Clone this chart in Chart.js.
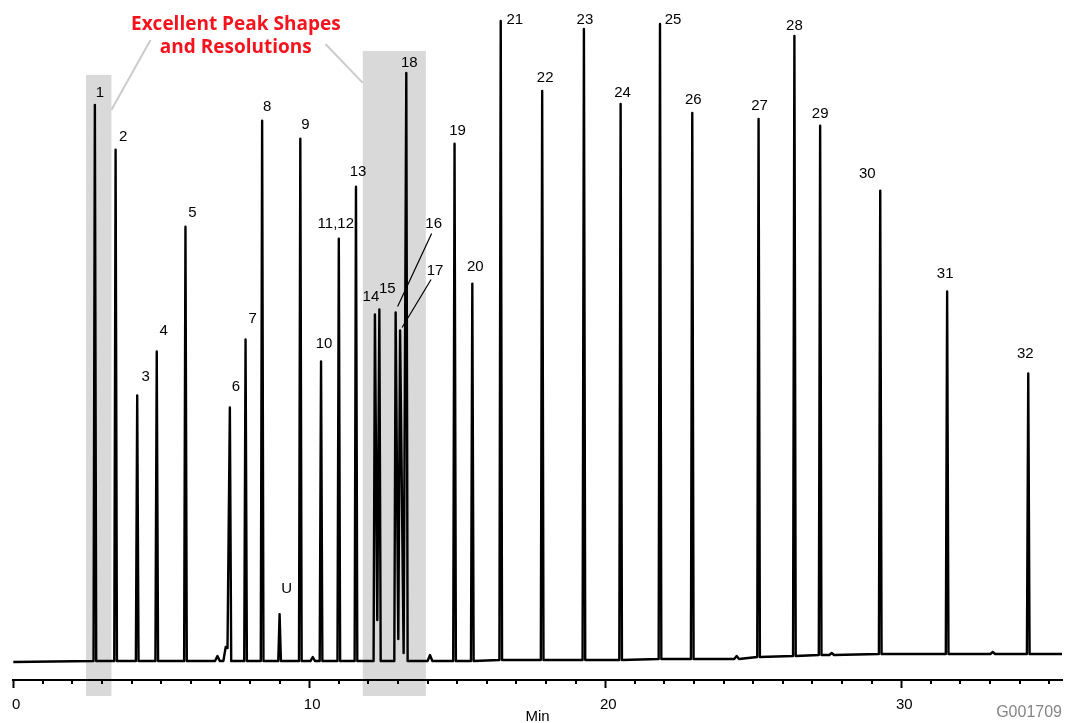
<!DOCTYPE html>
<html><head>
<meta charset="utf-8">
<script src="https://cdn.jsdelivr.net/npm/chart.js"></script>
<title>Chromatogram</title>
<style>
html, body { margin: 0; padding: 0; background: #fff; }
#wrap { width: 1066px; height: 723px; }
</style>
</head>
<body>
<div id="wrap"><canvas id="chart" width="1066" height="723"></canvas></div>

<script>
// peaks: label, retention time (min), apex response, local baseline under the peak
const peakLabels = ['1', '2', '3', '4', '5', '6', '7', '8', 'U', '9', '10', '11,12', '13', '14', '15', '16',
  '17', '18', '19', '20', '21', '22', '23', '24', '25', '26', '27', '28', '29', '30', '31', '32'];
const peakTimes = [2.76, 3.46, 4.19, 4.85, 5.82, 7.32, 7.85, 8.41, 9.00, 9.70, 10.40, 11.00, 11.58, 12.22, 12.37, 12.92,
  13.07, 13.28, 14.91, 15.51, 16.47, 17.87, 19.28, 20.52, 21.85, 22.94, 25.18, 26.39, 27.26, 29.29, 31.55, 34.29];
const peakHeights = [557, 512, 266, 310, 435, 254, 322, 541, 47, 523, 300, 423, 475, 347, 352, 349,
  331, 589, 518, 378, 641, 571, 633, 558, 638, 549, 543, 626, 536, 471, 370, 288];
const peakBase = [0, 0, 0, 0, 0, 0, 0, 0, 0, 0, 0, 0, 0, 0, 0, 0,
  0, 0, 0, 0, 1, 1, 1, 1, 2, 2, 4, 5, 6, 7, 7, 7];

// where overlapping peaks do not return to baseline
const valleyTimes = [7.24, 12.30, 13.01, 13.19];
const valleyLevels = [13, 41, 22, 8];

// small baseline disturbances
const bumpTimes = [6.90, 7.18, 10.12, 14.08, 24.44, 27.65, 33.09];
const bumpLevels = [5, 14, 4, 6, 5, 8, 9];
const bumpBase = [0, 0, 0, 0, 2, 6, 7];

const runStart = 0, runEnd = 35.43;
const startLevel = -1, endLevel = 7;

// shaded regions (min)
const shadeFrom = [2.46, 11.81];
const shadeTo = [3.32, 13.94];

// label placement next to each apex (px)
const labelDx = [5, 7.5, 8.5, 7, 7, 6, 7, 5, 7, 5, 3, -3, 2, -4, 8, 38,
  35, 3, 3, 3, 14, 3, 1, 2, 13, 1, 1, 0, 0, -13, -2, -3];
const labelDy = [-12, -13, -19, -21, -14, -21, -21, -14, -25, -14, -18, -15, -15, -18, -21, -89,
  -60, -10, -13, -17, -1, -13, -9, -11, -4, -13, -13, -10, -12, -17, -18, -20];
// leader lines: peak index, start offset from label, end offset from apex
const leaders = [[15, -2, 10, 2, -6], [16, -4, 9, 2, -3]];

// build the trace from the peak table
const features = [];
peakTimes.forEach((t, i) => features.push({t, top: peakHeights[i], base: peakBase[i], w: 0.045}));
bumpTimes.forEach((t, i) => features.push({t, top: bumpLevels[i], base: bumpBase[i], w: 0.08}));
features.sort((a, b) => a.t - b.t);

function valleyBetween(a, b) {
  return valleyTimes.findIndex(v => v > a && v < b);
}

const trace = [{x: runStart, y: startLevel}];
features.forEach((f, i) => {
  const prev = features[i - 1], next = features[i + 1];
  const vb = prev ? valleyBetween(prev.t, f.t) : -1;
  if (vb >= 0) trace.push({x: valleyTimes[vb], y: valleyLevels[vb]});
  else trace.push({x: f.t - f.w, y: f.base});
  trace.push({x: f.t, y: f.top});
  const va = next ? valleyBetween(f.t, next.t) : -1;
  if (va < 0) trace.push({x: f.t + f.w, y: f.base});
});
trace.push({x: runEnd, y: endLevel});

const shading = {
  id: 'shading',
  beforeDraw(chart) {
    const {ctx, scales: {x, y}} = chart;
    ctx.save();
    ctx.fillStyle = '#fff';
    ctx.fillRect(0, 0, chart.width, chart.height);
    ctx.fillStyle = '#d9d9d9';
    const tops = [587, 611];
    shadeFrom.forEach((t, i) => {
      const x0 = x.getPixelForValue(t), x1 = x.getPixelForValue(shadeTo[i]);
      const y0 = y.getPixelForValue(tops[i]), y1 = y.getPixelForValue(-35);
      ctx.fillRect(x0, y0, x1 - x0, y1 - y0);
    });
    // connectors from the callout to the shaded regions
    ctx.strokeStyle = '#cccccc';
    ctx.lineWidth = 2;
    ctx.beginPath();
    ctx.moveTo(x.getPixelForValue(4.64), y.getPixelForValue(622));
    ctx.lineTo(x.getPixelForValue(3.32), y.getPixelForValue(552));
    ctx.moveTo(x.getPixelForValue(10.55), y.getPixelForValue(618));
    ctx.lineTo(x.getPixelForValue(11.81), y.getPixelForValue(579));
    ctx.stroke();
    ctx.restore();
  }
};

const annotations = {
  id: 'annotations',
  afterDraw(chart) {
    const {ctx, scales: {x, y}} = chart;
    ctx.save();
    // minor ticks
    ctx.strokeStyle = '#000';
    ctx.lineWidth = 2;
    ctx.beginPath();
    for (let v = 1; v <= 35; v++) {
      if (v % 10 === 0) continue;
      const px = Math.round(x.getPixelForValue(v));
      ctx.moveTo(px, y.bottom);
      ctx.lineTo(px, y.bottom + 4);
    }
    ctx.stroke();

    // peak labels
    ctx.fillStyle = '#000';
    ctx.font = '15px "Liberation Sans", Arial, sans-serif';
    ctx.textAlign = 'center';
    ctx.textBaseline = 'middle';
    peakLabels.forEach((lab, i) => {
      const px = x.getPixelForValue(peakTimes[i]);
      const py = y.getPixelForValue(peakHeights[i]);
      ctx.fillText(lab, px + labelDx[i], py + labelDy[i]);
    });
    ctx.lineWidth = 1.2;
    ctx.beginPath();
    leaders.forEach(([i, sx, sy, ex, ey]) => {
      const px = x.getPixelForValue(peakTimes[i]);
      const py = y.getPixelForValue(peakHeights[i]);
      ctx.moveTo(px + labelDx[i] + sx, py + labelDy[i] + sy);
      ctx.lineTo(px + ex, py + ey);
    });
    ctx.stroke();

    // callout
    ctx.fillStyle = '#f5141e';
    ctx.font = 'bold 19px "Open Sans", sans-serif';
    ctx.textBaseline = 'alphabetic';
    const cx = x.getPixelForValue(7.52);
    ctx.fillText('Excellent Peak Shapes', cx, y.getPixelForValue(632));
    ctx.fillText('and Resolutions', cx, y.getPixelForValue(608.5));

    // figure code
    ctx.fillStyle = '#858585';
    ctx.font = '16px "Liberation Sans", Arial, sans-serif';
    ctx.textAlign = 'right';
    ctx.fillText('G001709', chart.width - 4, chart.height - 6);
    ctx.restore();
  }
};

const chart = new Chart(document.getElementById('chart').getContext('2d'), {
  type: 'line',
  data: {
    datasets: [{
      label: 'Signal',
      data: trace,
      borderColor: '#000',
      borderWidth: 2.4,
      borderJoinStyle: 'round',
      pointRadius: 0,
      tension: 0,
      fill: false
    }]
  },
  options: {
    responsive: false,
    animation: false,
    devicePixelRatio: 1,
    layout: {padding: {left: 13, right: 4, top: 0, bottom: -6}},
    plugins: {
      legend: {display: false},
      tooltip: {enabled: false}
    },
    scales: {
      x: {
        type: 'linear',
        min: runStart,
        max: runEnd,
        border: {display: true, color: '#000', width: 2},
        grid: {
          drawOnChartArea: false,
          drawTicks: true,
          tickLength: 8,
          tickWidth: 2,
          tickColor: ctx => (ctx.tick && ctx.tick.value % 10 === 0) ? '#000' : 'rgba(0,0,0,0)'
        },
        ticks: {
          stepSize: 1,
          autoSkip: false,
          includeBounds: false,
          maxRotation: 0,
          padding: 9,
          labelOffset: 3,
          color: '#000',
          font: {family: '"Liberation Sans", Arial, sans-serif', size: 15, lineHeight: 1},
          callback: v => (v % 10 === 0 ? String(v) : '')
        },
        title: {
          display: true,
          text: 'Min',
          color: '#000',
          font: {family: '"Liberation Sans", Arial, sans-serif', size: 15, lineHeight: 1},
          padding: {top: -12, bottom: 5}
        }
      },
      y: {
        display: false,
        min: -19,
        max: 662
      }
    }
  },
  plugins: [shading, annotations]
});
</script>
</body></html>
